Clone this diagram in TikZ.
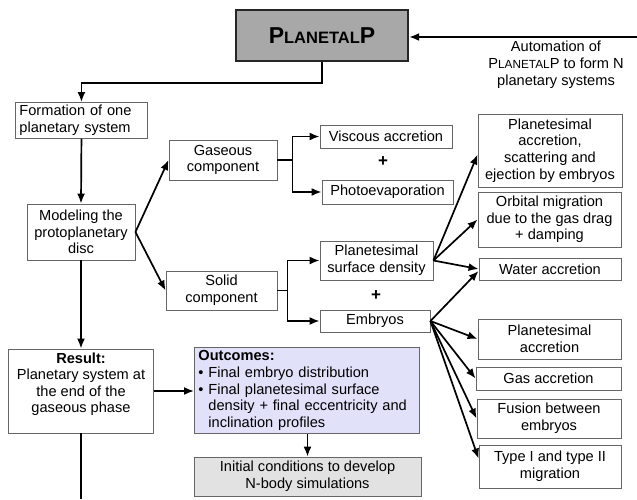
\documentclass[tikz,border=0pt]{standalone}
\usepackage{fontspec}
\setmainfont{Liberation Sans}
\usetikzlibrary{arrows.meta}
\definecolor{outcfill}{RGB}{225,225,250}
\definecolor{initfill}{RGB}{226,226,226}
\definecolor{plpfill}{RGB}{168,168,168}
\newcommand{\smc}[1]{{\fontsize{11.8}{11.8}\selectfont #1}}
\begin{document}
\begin{tikzpicture}[x=1pt,y=-1pt,
  box/.style={draw=black!60, line width=0.9pt, fill=white, inner sep=0pt, align=center,
              font=\fontsize{14.6}{16.6}\selectfont},
  arr/.style={line width=1.7pt, -{Latex[length=10pt,width=8pt]}},
  ln/.style={line width=1.7pt},
  plain/.style={align=center, inner sep=0pt, font=\fontsize{14.6}{17}\selectfont}]
\useasboundingbox (0,0) rectangle (637,499);

% title
\node[draw=black!85, line width=2.4pt, fill=plpfill, minimum width=172pt, minimum height=51pt, inner sep=0pt]
  (plp) at (322,35.5) {\bfseries\fontsize{23}{23}\selectfont P\fontsize{16.5}{16.5}\selectfont LANETAL\fontsize{23}{23}\selectfont P};
\node[plain] (auto) at (556,65) {Automation of\\P\smc{LANETAL}P to form N\\planetary systems};

% left column
\node[box, anchor=north west, text width=124pt, inner xsep=4pt, align=left, minimum height=36pt]
  (form) at (15,102) {Formation of one\\planetary system};
\node[box, minimum width=108pt, minimum height=56pt] (model) at (81,232) {Modeling the\\protoplanetary\\disc};
\node[box, minimum width=145pt, minimum height=84pt] (result) at (81,391)
  {\textbf{Result:}\\Planetary system at\\the end of the\\gaseous phase\\\mbox{}};

% components
\node[box, minimum width=108pt, minimum height=40pt] (gas) at (223,160) {Gaseous\\component};
\node[box, minimum width=111pt, minimum height=39pt] (solid) at (221.5,290.5) {Solid\\component};

\node[box, minimum width=132pt, minimum height=23pt] (visc) at (386,136.5) {Viscous accretion};
\node[plain, font=\bfseries\fontsize{17}{17}\selectfont] (plus1) at (383,162) {+};
\node[box, minimum width=131pt, minimum height=24pt] (photo) at (387.5,192) {Photoevaporation};

\node[box, minimum width=113pt, minimum height=39pt] (psd) at (376.5,260.5) {Planetesimal\\surface density};
\node[plain, font=\bfseries\fontsize{17}{17}\selectfont] (plus2) at (376,296) {+};
\node[box, minimum width=110pt, minimum height=22pt] (emb) at (375,321) {Embryos};

% right column
\node[box, minimum width=144pt, minimum height=73pt] (r1) at (550,150.5) {Planetesimal\\accretion,\\scattering and\\ejection by embryos};
\node[box, minimum width=143pt, minimum height=55pt] (r2) at (549.5,219.5) {Orbital migration\\due to the gas drag\\+ damping};
\node[box, minimum width=142pt, minimum height=22pt] (r3) at (550,269) {Water accretion};
\node[box, minimum width=143pt, minimum height=40pt] (r4) at (549.5,339) {Planetesimal\\accretion};
\node[box, minimum width=145pt, minimum height=23pt] (r5) at (548.5,378.5) {Gas accretion};
\node[box, minimum width=144pt, minimum height=39pt] (r6) at (549,418.5) {Fusion between\\embryos};
\node[box, minimum width=142pt, minimum height=43pt] (r7) at (550,466.5) {Type I and type II\\migration};

% outcomes
\node[box, fill=outcfill, anchor=north west, text width=217pt, inner xsep=4pt, align=left, minimum height=86pt]
  (outc) at (194,347) {\textbf{Outcomes:}\\
  \textbullet\ Final embryo distribution\\
  \textbullet\ Final planetesimal surface\\
  \hphantom{\textbullet\ }density + final eccentricity and\\
  \hphantom{\textbullet\ }inclination profiles};
\node[box, fill=initfill, minimum width=227pt, minimum height=39pt] (init) at (307.5,476.5)
  {Initial conditions to develop\\N-body simulations};

% connectors
\coordinate (re) at (637,37);
\coordinate (be) at (81,499);
\draw[arr] (re) -- (re -| plp.east);
\draw[arr] (plp.south) -- ++(0,21) -| (form.north);
\draw[arr] (form.south) -- (model.north);
\draw[arr] (model.south) -- (result.north);
\draw[ln] (result.south) -- (be);
\draw[arr] (result.east) -- (result.east -| outc.west);
\draw[arr] (outc.south -| init.north) -- (init.north);

\draw[arr] (model.east) -- (gas.west);
\draw[arr] (model.east) -- (solid.west);

\draw[ln] (gas.east) -- ++(15,0) coordinate (gj);
\draw[arr] (gj |- visc.west) -- (visc.west);
\draw[arr] (gj |- photo.west) -- (photo.west);
\draw[ln] (gj |- visc.west) -- (gj |- photo.west);

\draw[ln] (solid.east) -- ++(10,0) coordinate (sj);
\draw[arr] (sj |- psd.west) -- (psd.west);
\draw[arr] (sj |- emb.west) -- (emb.west);
\draw[ln] (sj |- psd.west) -- (sj |- emb.west);

\draw[arr] (psd.east) -- ([yshift=-4pt]r1.west);
\draw[arr] (psd.east) -- (r2.west);
\draw[arr] (psd.east) -- (r3.west);

\draw[arr] (emb.east) -- ([yshift=-2pt]r3.west);
\draw[arr] (emb.east) -- (r4.west);
\draw[arr] (emb.east) -- (r5.west);
\draw[arr] (emb.east) -- (r6.west);
\draw[arr] (emb.east) -- ([yshift=8pt]r7.west);
\end{tikzpicture}
\end{document}
